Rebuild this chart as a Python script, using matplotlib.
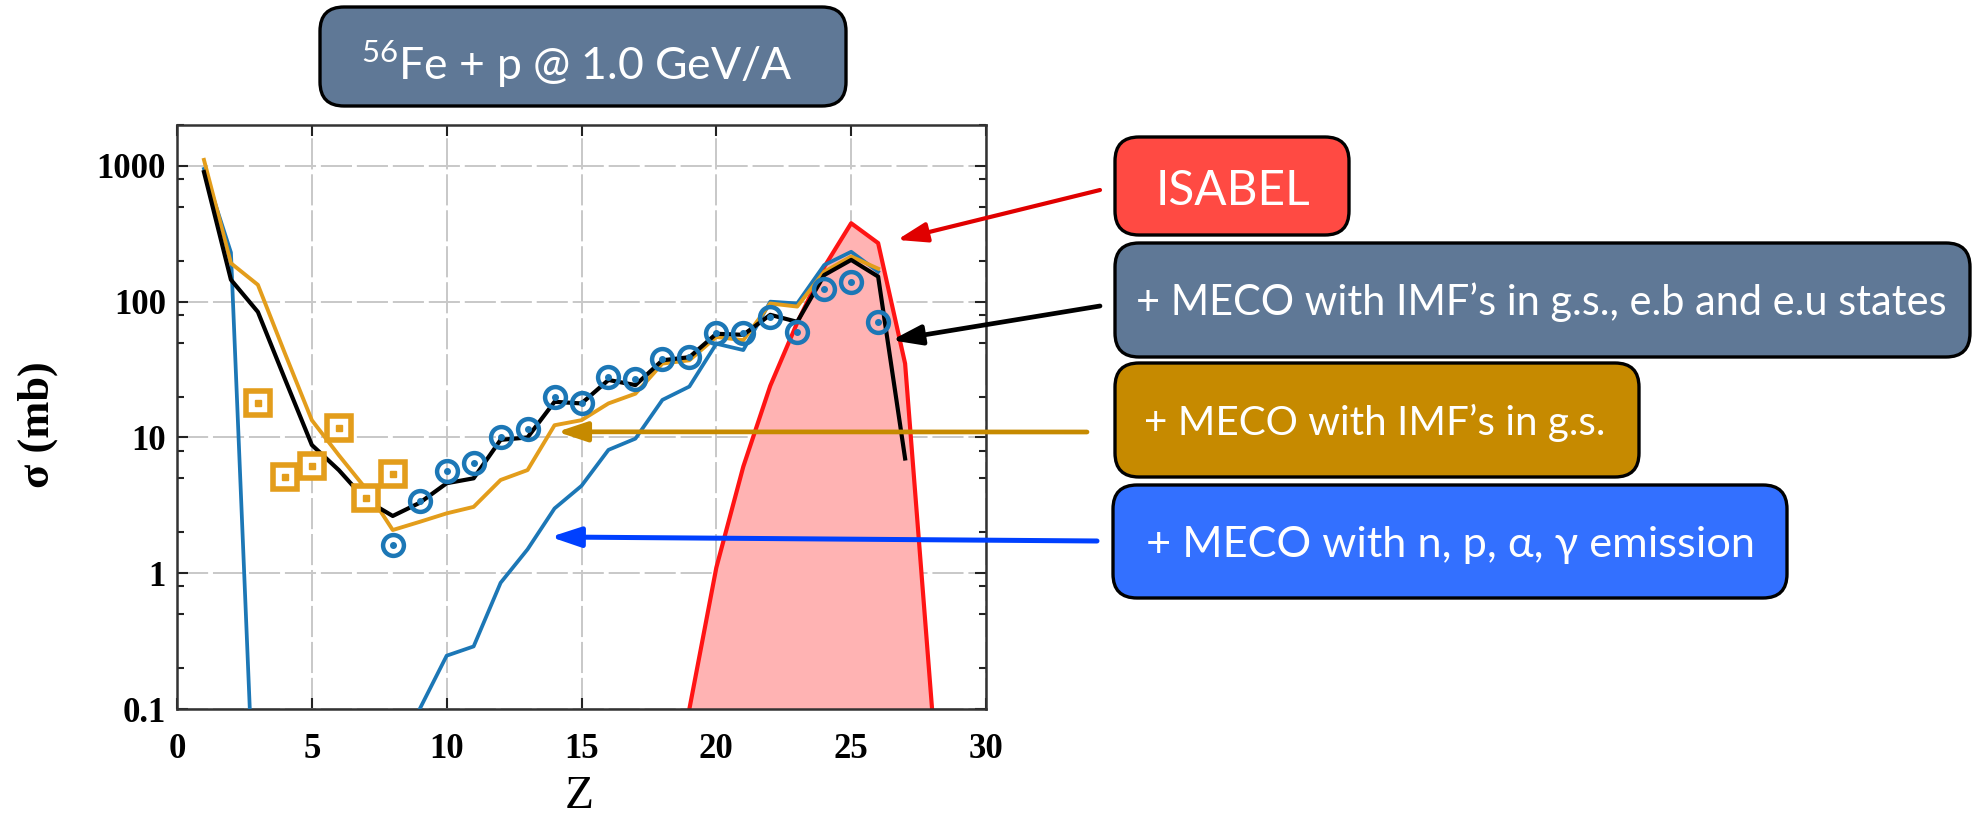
import matplotlib.pyplot as plt
import numpy as np
from matplotlib.patches import FancyBboxPatch
from matplotlib.transforms import IdentityTransform
from matplotlib.ticker import LogLocator, NullFormatter

# ---------- data ----------
z_isabel = [19, 20, 21, 22, 23, 24, 25, 26, 27, 28]
sig_isabel = [0.1, 1.1, 6.1, 24, 70, 180, 378, 270, 35, 0.1]

z_full = list(range(1, 28))
sig_full = [900, 145, 84, 27, 8.8, 5.75, 3.46, 2.64, 3.3, 4.6, 5.0, 9.6, 10, 18.3,
            17.8, 26.5, 24.3, 37, 39, 58, 57, 80, 71, 157, 203, 153, 7.0]

z_gs = list(range(1, 27))
sig_gs = [1107, 192, 133, 41.7, 13.4, 7.4, 4.2, 2.08, 2.39, 2.76, 3.08, 4.86, 5.75,
          12.3, 13.4, 17.8, 21, 35, 37, 55, 52, 97, 92, 166, 215, 175]

z_evap = list(range(1, 27))
sig_evap = [950, 230, 0.0036, np.nan, np.nan, np.nan, np.nan, np.nan, 0.1, 0.247,
            0.289, 0.85, 1.5, 3.0, 4.4, 8.1, 9.8, 18.9, 23.7, 49, 44, 100, 97, 186,
            233, 166]

z_exp_light = [3, 4, 5, 6, 7, 8]
sig_exp_light = [18, 5.1, 6.15, 11.7, 3.56, 5.37]

z_exp = list(range(8, 27))
sig_exp = [1.61, 3.42, 5.65, 6.44, 10.1, 11.5, 20, 18, 27.7, 26.8, 37.6, 39.3, 59,
           59, 77.6, 60, 123, 140, 71]

y_ticks = [0.1, 1, 10, 100, 1000]
y_ticklabels = ['0.1', '1', '10', '100', '1000']

# ---------- colours ----------
RED = '#FF1414'
PINK = '#FFB3B3'
BLUE = '#1C77B6'
ORANGE = '#E39D1B'
SLATE = '#5F7896'

W, H = 1977, 817
fig = plt.figure(figsize=(W / 100, H / 100), dpi=100)
ax = fig.add_axes([177 / W, 1 - 709 / H, (986 - 177) / W, (709 - 125) / H])

ax.fill_between(z_isabel, sig_isabel, 0.1, color=PINK, lw=0, zorder=1)
ax.plot(z_isabel, sig_isabel, color=RED, lw=3.0, zorder=2)
ax.plot(z_evap, sig_evap, color=BLUE, lw=2.7, zorder=3)
ax.plot(z_gs, sig_gs, color=ORANGE, lw=2.8, zorder=4)
ax.plot(z_full, sig_full, color='black', lw=3.0, zorder=5)

# experimental points: open marker + small centre dot
ax.plot(z_exp_light, sig_exp_light, ls='none', marker='s', ms=17, mfc='white',
        mec=ORANGE, mew=4, zorder=6)
ax.plot(z_exp_light, sig_exp_light, ls='none', marker='s', ms=4, color=ORANGE, zorder=7)
ax.plot(z_exp, sig_exp, ls='none', marker='o', ms=15, mfc='none', mec=BLUE, mew=3.2, zorder=6)
ax.plot(z_exp, sig_exp, ls='none', marker='o', ms=4, color=BLUE, zorder=7)

ax.set_yscale('log')
ax.set_xlim(0, 30)
ax.set_ylim(0.1, 2000)
ax.set_xticks(range(0, 31, 5))
ax.set_yticks(y_ticks)
ax.set_yticklabels(y_ticklabels)
ax.yaxis.set_minor_locator(LogLocator(base=10, subs=(2, 5, 8)))
ax.yaxis.set_minor_formatter(NullFormatter())
ax.tick_params(which='both', direction='in', top=True, right=True, color='#222222', width=1.5)
ax.tick_params(which='major', length=8)
ax.tick_params(which='minor', length=5)
ax.tick_params(axis='x', pad=17)
ax.tick_params(axis='y', pad=8)
for lab in ax.get_xticklabels() + ax.get_yticklabels():
    lab.set_fontfamily('Liberation Serif')
    lab.set_fontweight('bold')
    lab.set_fontsize(25)
for sp in ax.spines.values():
    sp.set_color('#333333')
    sp.set_linewidth(1.8)
ax.grid(True, which='major', color='#C8C8C8', lw=1.4, ls=(0, (16, 2.5)))
ax.set_axisbelow(True)

fig.text(579 / W, 1 - 797 / H, 'Z', fontfamily='Liberation Serif', fontsize=34,
         ha='center', va='center')
fig.text(38 / W, 1 - 425 / H, 'σ (mb)', fontfamily='Liberation Serif', fontweight='bold',
         fontsize=32, rotation=90, ha='center', va='center')

# ---------- annotation boxes (pixel positions, y from top) ----------
plt.rcParams['mathtext.fontset'] = 'custom'
plt.rcParams['mathtext.rm'] = 'Lato'
renderer = fig.canvas.get_renderer()


def label_box(x0, y0, x1, y1, color, text, cx, base_y, width):
    box = FancyBboxPatch((x0, H - y1), x1 - x0, y1 - y0,
                         boxstyle='round,pad=0,rounding_size=24',
                         facecolor=color, edgecolor='black', lw=2.4,
                         transform=IdentityTransform())
    fig.add_artist(box)
    t = fig.text(cx, H - base_y, text, color='white', fontfamily='Lato', fontsize=30,
                 ha='center', va='baseline', transform=IdentityTransform())
    bb = t.get_window_extent(renderer)
    t.set_fontsize(30 * width / bb.width)


label_box(320, 7, 846, 106, SLATE, r'$^{\mathrm{56}}$Fe + p @ 1.0 GeV/A', 577, 80, 431)
label_box(1115, 137, 1349, 235, '#FF4A43', 'ISABEL', 1233, 205, 154)
label_box(1115, 243, 1970, 357, SLATE, '+ MECO with IMF’s in g.s., e.b and e.u states', 1541, 315, 810)
label_box(1115, 363, 1639, 477, '#C68A00', '+ MECO with IMF’s in g.s.', 1375, 435, 461)
label_box(1113, 485, 1787, 598, '#3370FF', '+ MECO with n, p, α, γ emission', 1450, 557, 609)

# ---------- arrows from the boxes to the curves ----------
arrows = [((26.7, 285), (1100, H - 190), '#E00000', 3.0),
          ((26.5, 52), (1100, H - 306), 'black', 3.4),
          ((14.1, 11), (1087, H - 432), '#C68A00', 3.4),
          ((13.85, 1.85), (1097, H - 541), '#0040FF', 3.6)]
for head, tail, col, lw in arrows:
    ax.annotate('', xy=head, xycoords='data', xytext=tail, textcoords='figure pixels',
                arrowprops=dict(arrowstyle='-|>,head_length=0.9,head_width=0.3',
                                mutation_scale=20, color=col, lw=lw, shrinkA=0, shrinkB=0),
                annotation_clip=False, zorder=10)

fig.savefig('out.png', dpi=100, facecolor='white')
